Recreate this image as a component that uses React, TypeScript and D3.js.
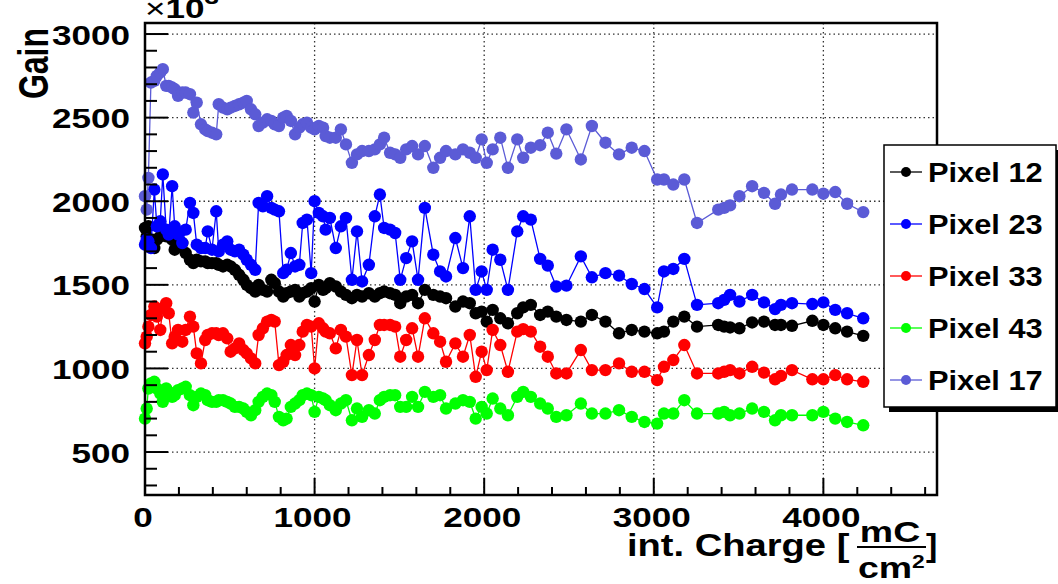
import React from "react";
import * as d3 from "d3";

// integrated charge [mC/cm^2], shared by all pixels
const charge = [
  0, 10, 20, 35, 55, 70, 90, 105, 125, 140, 160, 175, 195, 220, 240, 265, 285, 305, 330, 355,
  370, 395, 420, 435, 460, 485, 505, 530, 555, 580, 600, 625, 650, 670, 695, 720, 745, 765, 790, 815,
  835, 860, 885, 910, 930, 955, 980, 1000, 1025, 1050, 1065,
  1090, 1125, 1155, 1185, 1220, 1250, 1280, 1320, 1355, 1385, 1410, 1445, 1475, 1505, 1540, 1575, 1610, 1650, 1700, 1740,
  1775, 1830, 1875, 1915, 1950, 1985, 2015, 2050, 2095, 2140, 2195, 2230, 2275, 2330, 2375, 2425, 2485, 2570, 2635, 2715,
  2795, 2870, 2945, 3020, 3060, 3115, 3180, 3255, 3380, 3415, 3450, 3505, 3580, 3650, 3715, 3750, 3815, 3935, 4000, 4070,
  4140, 4235,
];

const pixel12 = [
  1840, 1790, 1850, 1760, 1720, 1770, 1790, 1800, 1790, 1800, 1770, 1710, 1730, 1750, 1690, 1650, 1630, 1650, 1640, 1640,
  1630, 1630, 1630, 1620, 1610, 1620, 1610, 1590, 1560, 1530, 1500, 1480, 1460, 1500, 1470, 1460, 1530, 1510, 1460, 1430,
  1450, 1460, 1470, 1430, 1450, 1460, 1480, 1400, 1500, 1470, 1480,
  1510, 1490, 1460, 1440, 1420, 1440, 1430, 1450, 1430, 1450, 1460, 1450, 1440, 1390, 1430, 1440, 1390, 1470, 1440, 1430,
  1420, 1370, 1400, 1390, 1330, 1340, 1280, 1350, 1300, 1270, 1330, 1365, 1380, 1320, 1340, 1310, 1290, 1280, 1320, 1280,
  1210, 1230, 1220, 1210, 1220, 1280, 1310, 1250, 1260, 1250, 1245, 1240, 1275, 1280, 1260, 1260, 1255, 1285, 1260, 1240,
  1220, 1195,
];

const pixel23 = [
  1740, 1770, 1760, 1720, 2070, 1850, 1880, 2160, 1830, 1800, 2090, 1850, 1800, 1750, 1830, 1990, 1930, 1740, 1720, 1720,
  1820, 1710, 1940, 1700, 1740, 1760, 1710, 1700, 1710, 1680, 1650, 1620, 1590, 1990, 1970, 2030, 1960, 1950, 1940, 1570,
  1590, 1690, 1610, 1620, 1870, 1890, 1570, 2000, 1930, 1910, 1830,
  1900, 1720, 1850, 1900, 1530, 1820, 1520, 1620, 1910, 2040, 1840, 1830, 1810, 1530, 1660, 1760, 1530, 1960, 1680, 1580,
  1550, 1780, 1600, 1910, 1470, 1580, 1470, 1710, 1650, 1470, 1820, 1910, 1890, 1655, 1615, 1490, 1495, 1670, 1545, 1570,
  1555, 1505, 1475, 1365, 1580, 1595, 1655, 1380, 1390, 1410, 1440, 1400, 1440, 1395, 1355, 1380, 1390, 1385, 1395, 1350,
  1330, 1300,
];

const pixel33 = [
  1150, 1190, 1250, 1320, 1370, 1310, 1230, 1360, 1390, 1330, 1150, 1190, 1230, 1160, 1230, 1310, 1250, 1090, 1030, 1170,
  1200, 1210, 1210, 1200, 1210, 1180, 1100, 1120, 1150, 1110, 1090, 1060, 1030, 1200, 1240, 1280, 1290, 1280, 1020, 1040,
  1080, 1140, 1080, 1140, 1220, 1260, 1250, 1000, 1270, 1240, 1220,
  1210, 1120, 1230, 1190, 960, 1170, 960, 1080, 1170, 1260, 1260, 1260, 1250, 1070, 1170, 1240, 1070, 1300, 1210, 1160,
  1040, 1150, 1070, 1200, 950, 1100, 990, 1230, 1140, 980, 1220, 1235, 1220, 1130, 1070, 970, 970, 1110, 990, 990,
  1030, 980, 980, 930, 1010, 1050, 1140, 970, 970, 980, 990, 970, 1010, 975, 935, 955, 990, 935, 935, 960,
  935, 920,
];

const pixel43 = [
  700, 760, 880, 910, 920, 880, 850, 800, 880, 860, 830, 840, 870, 880, 890, 840, 780, 830, 850, 840,
  810, 800, 800, 810, 810, 800, 790, 770, 770, 760, 740, 720, 750, 800, 830, 850, 840, 800, 710, 690,
  700, 770, 790, 810, 840, 850, 840, 740, 830, 820, 810,
  780, 750, 790, 810, 690, 760, 710, 750, 730, 810, 830, 840, 840, 770, 770, 830, 770, 860, 830, 840,
  760, 790, 810, 800, 700, 770, 730, 820, 760, 720, 830, 860, 830, 790, 760, 710, 720, 790, 730, 730,
  750, 710, 680, 670, 730, 730, 810, 730, 730, 740, 720, 730, 760, 740, 690, 720, 720, 720, 740, 700,
  680, 660,
];

const pixel17 = [
  2030, 1950, 2140, 2710, 2720, 2750, 2770, 2790, 2690, 2690, 2680, 2670, 2630, 2650, 2650, 2640, 2530, 2590, 2460, 2430,
  2420, 2410, 2400, 2580, 2560, 2550, 2560, 2570, 2580, 2590, 2600, 2550, 2520, 2450, 2470, 2490, 2480, 2460, 2450, 2500,
  2510, 2480, 2400, 2440, 2460, 2470, 2440, 2430, 2450, 2440, 2390,
  2380, 2380, 2430, 2340, 2230, 2280, 2300, 2300, 2310, 2340, 2380, 2290, 2280, 2260, 2310, 2330, 2280, 2330, 2200, 2260,
  2300, 2280, 2310, 2290, 2260, 2370, 2230, 2310, 2380, 2200, 2370, 2260, 2320, 2335, 2410, 2285, 2430, 2250, 2450, 2350,
  2280, 2320, 2300, 2130, 2130, 2100, 2130, 1870, 1950, 1960, 1975, 2030, 2090, 2050, 1985, 2040, 2070, 2070, 2045, 2055,
  1985, 1935,
];

const seriesNames = ["Pixel 12", "Pixel 23", "Pixel 33", "Pixel 43", "Pixel 17"];
const seriesValues = [pixel12, pixel23, pixel33, pixel43, pixel17];
const seriesColors = ["#000000", "#0000ff", "#ff0000", "#00ff00", "#5b5bd6"];

const xMajor = [0, 1000, 2000, 3000, 4000];
const yMajor = [500, 1000, 1500, 2000, 2500, 3000];

const W = 1058;
const H = 584;
const frame = { left: 145, right: 937, top: 23, bottom: 495 };
const font = "'Liberation Sans', Arial, Helvetica, sans-serif";

// stretched bold text, like the original raster
function T({ x, y, sx = 1.3, size = 27, anchor = "start", children }: any) {
  return (
    <text
      transform={`translate(${x},${y}) scale(${sx},1)`}
      textAnchor={anchor}
      fontFamily={font}
      fontWeight="bold"
      fontSize={size}
      fill="#000"
    >
      {children}
    </text>
  );
}

export default function App() {
  const x = d3.scaleLinear().domain([0, 4670]).range([frame.left, frame.right]);
  const y = d3.scaleLinear().domain([243, 3066]).range([frame.bottom, frame.top]);

  const xMinor = d3.range(0, 4670, 200);
  const yMinor = d3.range(300, 3066, 100);

  const line = d3
    .line<[number, number]>()
    .x((d) => x(d[0]))
    .y((d) => y(d[1]));

  const legend = { x: 884, y: 145, w: 172, h: 262 };

  return (
    <svg width={W} height={H} style={{ position: "absolute", left: 0, top: 0, background: "#fff" }}>
      <rect x={0} y={0} width={W} height={H} fill="#fff" />

      {/* grid */}
      {yMajor.map((v) => (
        <line key={"gy" + v} x1={frame.left} x2={frame.right} y1={y(v)} y2={y(v)}
          stroke="#333" strokeWidth={1.3} strokeDasharray="1.5,3" />
      ))}
      {xMajor.slice(1).map((v) => (
        <line key={"gx" + v} x1={x(v)} x2={x(v)} y1={frame.top} y2={frame.bottom}
          stroke="#333" strokeWidth={1.3} strokeDasharray="1.5,3" />
      ))}

      {/* series */}
      {seriesValues.map((vals, si) => {
        const pts = charge.map((c, i) => [c, vals[i]] as [number, number]);
        return (
          <g key={seriesNames[si]}>
            <path d={line(pts) || ""} fill="none" stroke={seriesColors[si]} strokeWidth={1.3} />
            {pts.map((p, i) => (
              <circle key={i} cx={x(p[0])} cy={y(p[1])} r={6.2} fill={seriesColors[si]} />
            ))}
          </g>
        );
      })}

      {/* frame */}
      <rect x={frame.left} y={frame.top} width={frame.right - frame.left} height={frame.bottom - frame.top}
        fill="none" stroke="#000" strokeWidth={2.5} />

      {/* y ticks */}
      {yMinor.map((v) => (
        <line key={"ty" + v} x1={frame.left} x2={frame.left + (v % 500 === 0 ? 23 : 12)} y1={y(v)} y2={y(v)}
          stroke="#000" strokeWidth={2} />
      ))}
      {/* x ticks */}
      {xMinor.map((v) => (
        <line key={"tx" + v} x1={x(v)} x2={x(v)} y1={frame.bottom} y2={frame.bottom - (v % 1000 === 0 ? 17 : 8)}
          stroke="#000" strokeWidth={2} />
      ))}

      {/* tick labels */}
      {yMajor.map((v) => (
        <T key={"ly" + v} x={130} y={y(v) + 10.5} anchor="end">{v}</T>
      ))}
      {xMajor.map((v) => (
        <T key={"lx" + v} x={x(v) - 2} y={527} anchor="middle">{v}</T>
      ))}

      {/* exponent */}
      <text transform="translate(145,18) scale(1.3,1)" fontFamily={font} fontSize={27} fontWeight="bold">
        <tspan fontWeight="normal">×</tspan>10
        <tspan dy={-14} fontSize={20}>3</tspan>
      </text>

      {/* y title */}
      <text transform="translate(48,28) rotate(-90) scale(1,1.3)" textAnchor="end"
        fontFamily={font} fontWeight="bold" fontSize={32}>Gain</text>

      {/* x title */}
      <T x={627} y={556} sx={1.23} size={31}>int. Charge [</T>
      <T x={890} y={542} sx={1.25} size={30} anchor="middle">mC</T>
      <line x1={857} x2={926} y1={547} y2={547} stroke="#000" strokeWidth={2.2} />
      <T x={858} y={578} sx={1.25} size={30}>cm</T>
      <T x={912} y={568} sx={1.2} size={19}>2</T>
      <T x={926} y={556} sx={1.1} size={31}>]</T>

      {/* legend */}
      <rect x={legend.x + 5} y={legend.y + 5} width={legend.w} height={legend.h} fill="#000" />
      <rect x={legend.x} y={legend.y} width={legend.w} height={legend.h} fill="#fff" stroke="#000" strokeWidth={1.5} />
      {seriesNames.map((name, i) => {
        const cy = legend.y + 27 + i * 52;
        return (
          <g key={"lg" + name}>
            <line x1={890} x2={922} y1={cy} y2={cy} stroke={seriesColors[i]} strokeWidth={1.3} />
            <circle cx={906} cy={cy} r={5} fill={seriesColors[i]} />
            <T x={928} y={cy + 10} sx={1.1} size={28}>{name}</T>
          </g>
        );
      })}
    </svg>
  );
}
